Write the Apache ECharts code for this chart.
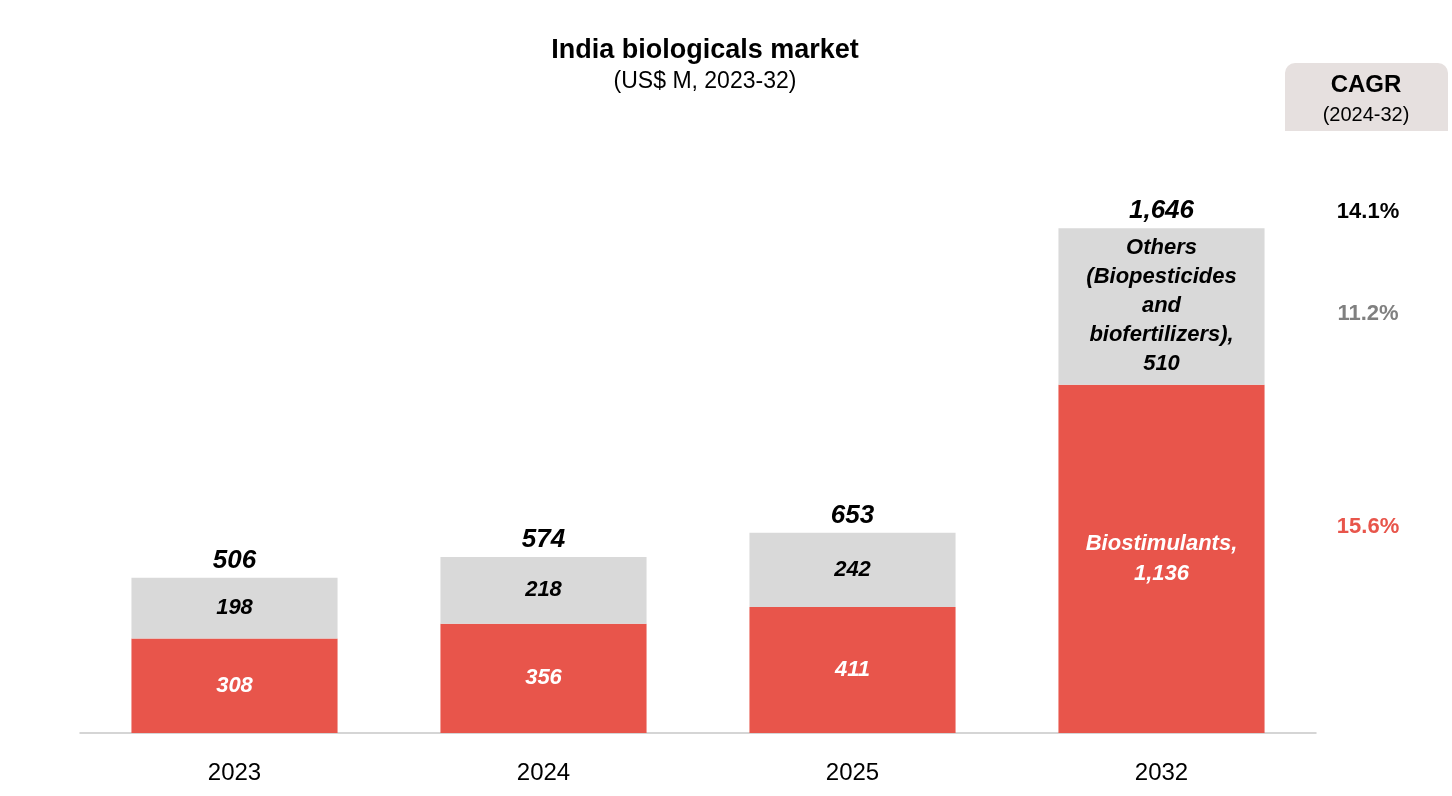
<!DOCTYPE html>
<html><head><meta charset="utf-8">
<script src="https://cdn.jsdelivr.net/npm/echarts@6/dist/echarts.min.js"></script>
<style>html,body{margin:0;padding:0;background:#fff}#c{width:1452px;height:796px}</style>
</head><body><div id="c"></div>
<script>
const categories = ['2023','2024','2025','2032'];
const biostimulants = [308,356,411,1136];
const others = [198,218,242,510];
const totals = [506,574,653,1646];
const cagrLabels = ['14.1%','11.2%','15.6%'];
const F = 'Liberation Sans, Arial, sans-serif';
const chart = echarts.init(document.getElementById('c'));
chart.setOption({
  animation:false,
  title:{text:'India biologicals market',subtext:'(US$ M, 2023-32)',left:700,top:32,textAlign:'center',itemGap:6,
    textStyle:{fontFamily:F,fontSize:27,fontWeight:'bold',color:'#000'},
    subtextStyle:{fontFamily:F,fontSize:23,color:'#000'}},
  grid:{left:80,right:136,top:181,bottom:63},
  xAxis:{type:'category',data:categories,axisTick:{show:false},
    axisLine:{lineStyle:{color:'#c8c8c8',width:1.5}},
    axisLabel:{fontFamily:F,fontSize:24,color:'#000',margin:28}},
  yAxis:{type:'value',min:0,max:1800,show:false,splitLine:{show:false}},
  series:[
    {type:'bar',stack:'s',data:biostimulants,barWidth:'66.7%',itemStyle:{color:'#e8554b'},
      label:{show:true,position:'inside',fontFamily:F,fontSize:22,fontWeight:'bold',fontStyle:'italic',color:'#fff',lineHeight:30,
        formatter:p=>p.dataIndex===3?'Biostimulants,\n'+p.value.toLocaleString('en-US'):p.value}},
    {type:'bar',stack:'s',data:others,barWidth:'66.7%',itemStyle:{color:'#d9d9d9'},
      label:{show:true,position:'inside',fontFamily:F,fontSize:22,fontWeight:'bold',fontStyle:'italic',color:'#000',lineHeight:29,
        formatter:p=>p.dataIndex===3?'Others\n(Biopesticides\nand\nbiofertilizers),\n'+p.value:p.value}},
    {type:'bar',stack:'s',data:totals.map(()=>0),barWidth:'66.7%',
      label:{show:true,position:'top',distance:4,fontFamily:F,fontSize:26,fontWeight:'bold',fontStyle:'italic',color:'#000',
        formatter:p=>totals[p.dataIndex].toLocaleString('en-US')}}
  ],
  graphic:[
    {type:'rect',shape:{x:1285,y:63,width:163,height:68,r:[10,10,0,0]},style:{fill:'#e6e0df'}},
    {type:'text',x:1366,y:73,style:{text:'CAGR',fontFamily:F,fontSize:24,fontWeight:'bold',fill:'#000',textAlign:'center'}},
    {type:'text',x:1366,y:105,style:{text:'(2024-32)',fontFamily:F,fontSize:20,fill:'#000',textAlign:'center'}},
    {type:'text',x:1368,y:201,style:{text:cagrLabels[0],fontFamily:F,fontSize:22,fontWeight:'bold',fill:'#000',textAlign:'center'}},
    {type:'text',x:1368,y:303,style:{text:cagrLabels[1],fontFamily:F,fontSize:22,fontWeight:'bold',fill:'#808080',textAlign:'center'}},
    {type:'text',x:1368,y:516,style:{text:cagrLabels[2],fontFamily:F,fontSize:22,fontWeight:'bold',fill:'#e8554b',textAlign:'center'}}
  ]
});
</script></body></html>
